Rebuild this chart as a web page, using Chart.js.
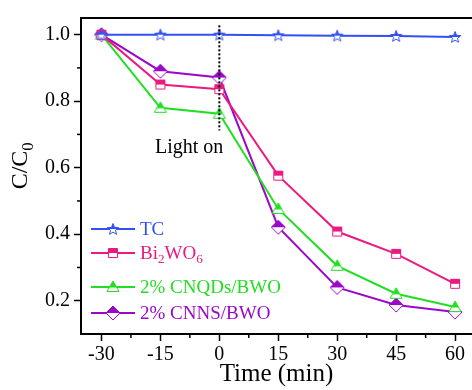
<!DOCTYPE html>
<html>
<head>
<meta charset="utf-8">
<script src="https://cdn.jsdelivr.net/npm/chart.js@4"></script>
<style>
  html, body { margin: 0; padding: 0; background: #fff; }
  #wrap { width: 472px; height: 390px; position: relative; }
</style>
</head>
<body>
<div id="wrap"><canvas id="chart"></canvas></div>
<script>
// time points (min)
const times = [-30, -15, 0, 15, 30, 45, 60];
const xTicks = [-30, -15, 0, 15, 30, 45, 60];
const yTicks = [0.2, 0.4, 0.6, 0.8, 1.0];

const seriesNames = ['TC', 'Bi_2WO_6', '2% CNQDs/BWO', '2% CNNS/BWO'];
const tcValues = [1.0, 1.0, 1.0, 0.998, 0.997, 0.996, 0.993];
const bwoValues = [1.0, 0.85, 0.836, 0.576, 0.408, 0.341, 0.251];
const cnqdValues = [1.0, 0.78, 0.762, 0.476, 0.305, 0.221, 0.181];
const cnnsValues = [1.0, 0.89, 0.871, 0.421, 0.24, 0.187, 0.166];

const colors = ['#3050f2', '#eb1a80', '#22de22', '#9a08c8'];
const shapes = ['star', 'square', 'triangle', 'diamond'];

const FONT = "'Liberation Serif', 'Times New Roman', serif";

// half filled marker images
function makeMarker(shape, color) {
    const s = 16;
    const c = document.createElement('canvas');
    c.width = s; c.height = s;
    const ctx = c.getContext('2d');
    const m = s / 2;
    function path() {
        ctx.beginPath();
        if (shape === 'square') {
            ctx.rect(m - 4.5, m - 4.5, 9, 9);
        } else if (shape === 'triangle') {
            ctx.moveTo(m, m - 6);
            ctx.lineTo(m + 6, m + 4.5);
            ctx.lineTo(m - 6, m + 4.5);
            ctx.closePath();
        } else if (shape === 'diamond') {
            ctx.moveTo(m, m - 7);
            ctx.lineTo(m + 7, m);
            ctx.lineTo(m, m + 7);
            ctx.lineTo(m - 7, m);
            ctx.closePath();
        } else {
            for (let i = 0; i < 10; i++) {
                const r = i % 2 === 0 ? 6 : 2.6;
                const a = -Math.PI / 2 + i * Math.PI / 5;
                const px = m + r * Math.cos(a), py = m + r * Math.sin(a) + 0.5;
                if (i === 0) ctx.moveTo(px, py); else ctx.lineTo(px, py);
            }
            ctx.closePath();
        }
    }
    path();
    ctx.fillStyle = '#fff';
    ctx.fill();
    ctx.save();
    ctx.beginPath();
    ctx.rect(0, 0, s, shape === 'triangle' ? m + 0.5 : m);
    ctx.clip();
    path();
    ctx.fillStyle = color;
    ctx.fill();
    ctx.restore();
    path();
    ctx.strokeStyle = color;
    ctx.lineWidth = 1;
    ctx.stroke();
    return c;
}

const markers = shapes.map((sh, i) => makeMarker(sh, colors[i]));
const allValues = [tcValues, bwoValues, cnqdValues, cnnsValues];

// draw text with _digit subscripts
function drawRich(ctx, text, x, y, size, color) {
    const parts = text.split(/(_\d)/).filter(p => p.length);
    ctx.fillStyle = color;
    ctx.textAlign = 'left';
    parts.forEach(p => {
        if (p[0] === '_') {
            ctx.font = (size * 0.7) + 'px ' + FONT;
            ctx.fillText(p.slice(1), x, y + size * 0.27);
            x += ctx.measureText(p.slice(1)).width;
        } else {
            ctx.font = size + 'px ' + FONT;
            ctx.fillText(p, x, y);
            x += ctx.measureText(p).width;
        }
    });
}

const decorPlugin = {
    id: 'decor',
    afterDraw(chart) {
        const ctx = chart.ctx;
        const area = chart.chartArea;
        const xs = chart.scales.x, ys = chart.scales.y;
        ctx.save();
        // top frame
        ctx.strokeStyle = '#000';
        ctx.lineWidth = 2;
        ctx.beginPath();
        ctx.moveTo(area.left, area.top);
        ctx.lineTo(area.right + 2, area.top);
        ctx.stroke();
        // minor ticks
        ctx.lineWidth = 1.5;
        for (let v = -22.5; v < 64; v += 15) {
            const px = xs.getPixelForValue(v);
            ctx.beginPath();
            ctx.moveTo(px, area.bottom);
            ctx.lineTo(px, area.bottom + 4);
            ctx.stroke();
        }
        [0.3, 0.5, 0.7, 0.9].forEach(v => {
            const py = ys.getPixelForValue(v);
            ctx.beginPath();
            ctx.moveTo(area.left, py);
            ctx.lineTo(area.left - 4, py);
            ctx.stroke();
        });
        // light on marker
        const lx = xs.getPixelForValue(0);
        ctx.setLineDash([2, 2]);
        ctx.lineWidth = 2;
        ctx.beginPath();
        ctx.moveTo(lx, ys.getPixelForValue(1.028));
        ctx.lineTo(lx, ys.getPixelForValue(0.712));
        ctx.stroke();
        ctx.setLineDash([]);
        ctx.fillStyle = '#000';
        ctx.font = '20px ' + FONT;
        ctx.textAlign = 'right';
        ctx.textBaseline = 'alphabetic';
        ctx.fillText('Light on', lx + 4, 153);

        // legend
        const legY = [229, 253, 287, 313];
        chart.data.datasets.forEach((ds, i) => {
            const y = legY[i];
            ctx.strokeStyle = ds.borderColor;
            ctx.lineWidth = 2;
            ctx.beginPath();
            ctx.moveTo(91, y);
            ctx.lineTo(135, y);
            ctx.stroke();
            ctx.drawImage(markers[i], 113 - 8, y - 8);
            ctx.textBaseline = 'middle';
            drawRich(ctx, seriesNames[i], 140, y + 1, 19, ds.borderColor);
        });

        // axis titles
        ctx.textBaseline = 'alphabetic';
        ctx.fillStyle = '#000';
        ctx.font = '25px ' + FONT;
        ctx.textAlign = 'center';
        ctx.fillText('Time (min)', (area.left + 472) / 2, 381);

        ctx.translate(27, 166);
        ctx.rotate(-Math.PI / 2);
        ctx.font = '24px ' + FONT;
        const w1 = ctx.measureText('C/C').width;
        ctx.font = '16px ' + FONT;
        const w2 = ctx.measureText('0').width;
        drawRich(ctx, 'C/C_0', -(w1 + w2) / 2, 0, 24, '#000');
        ctx.restore();
    }
};

const tickFont = { family: FONT, size: 20 };

new Chart(document.getElementById('chart'), {
    type: 'line',
    data: {
        datasets: allValues.map((vals, i) => ({
            label: seriesNames[i],
            data: times.map((t, j) => ({ x: t, y: vals[j] })),
            borderColor: colors[i],
            backgroundColor: colors[i],
            borderWidth: 2,
            pointStyle: markers[i],
            pointRadius: 7,
            tension: 0,
            fill: false
        }))
    },
    options: {
        responsive: true,
        maintainAspectRatio: false,
        animation: false,
        devicePixelRatio: 1,
        layout: { autoPadding: false, padding: { top: 18, right: 0, left: 0, bottom: 0 } },
        plugins: {
            legend: { display: false },
            tooltip: { enabled: false }
        },
        scales: {
            x: {
                type: 'linear',
                min: -35.2,
                max: 64.3,
                afterBuildTicks: s => { s.ticks = xTicks.map(v => ({ value: v })); },
                afterFit: s => { s.height = 56; },
                ticks: { color: '#000', font: tickFont, padding: 2, maxRotation: 0 },
                grid: { drawOnChartArea: false, drawTicks: true, tickLength: 7, tickWidth: 1.5, tickColor: '#000' },
                border: { color: '#000', width: 2 }
            },
            y: {
                min: 0.1,
                max: 1.05,
                afterBuildTicks: s => { s.ticks = yTicks.map(v => ({ value: v })); },
                afterFit: s => { s.width = 81; },
                ticks: { color: '#000', font: tickFont, padding: 4, callback: v => v.toFixed(1) },
                grid: { drawOnChartArea: false, drawTicks: true, tickLength: 7, tickWidth: 1.5, tickColor: '#000' },
                border: { color: '#000', width: 2 }
            }
        }
    },
    plugins: [decorPlugin]
});
</script>
</body>
</html>
